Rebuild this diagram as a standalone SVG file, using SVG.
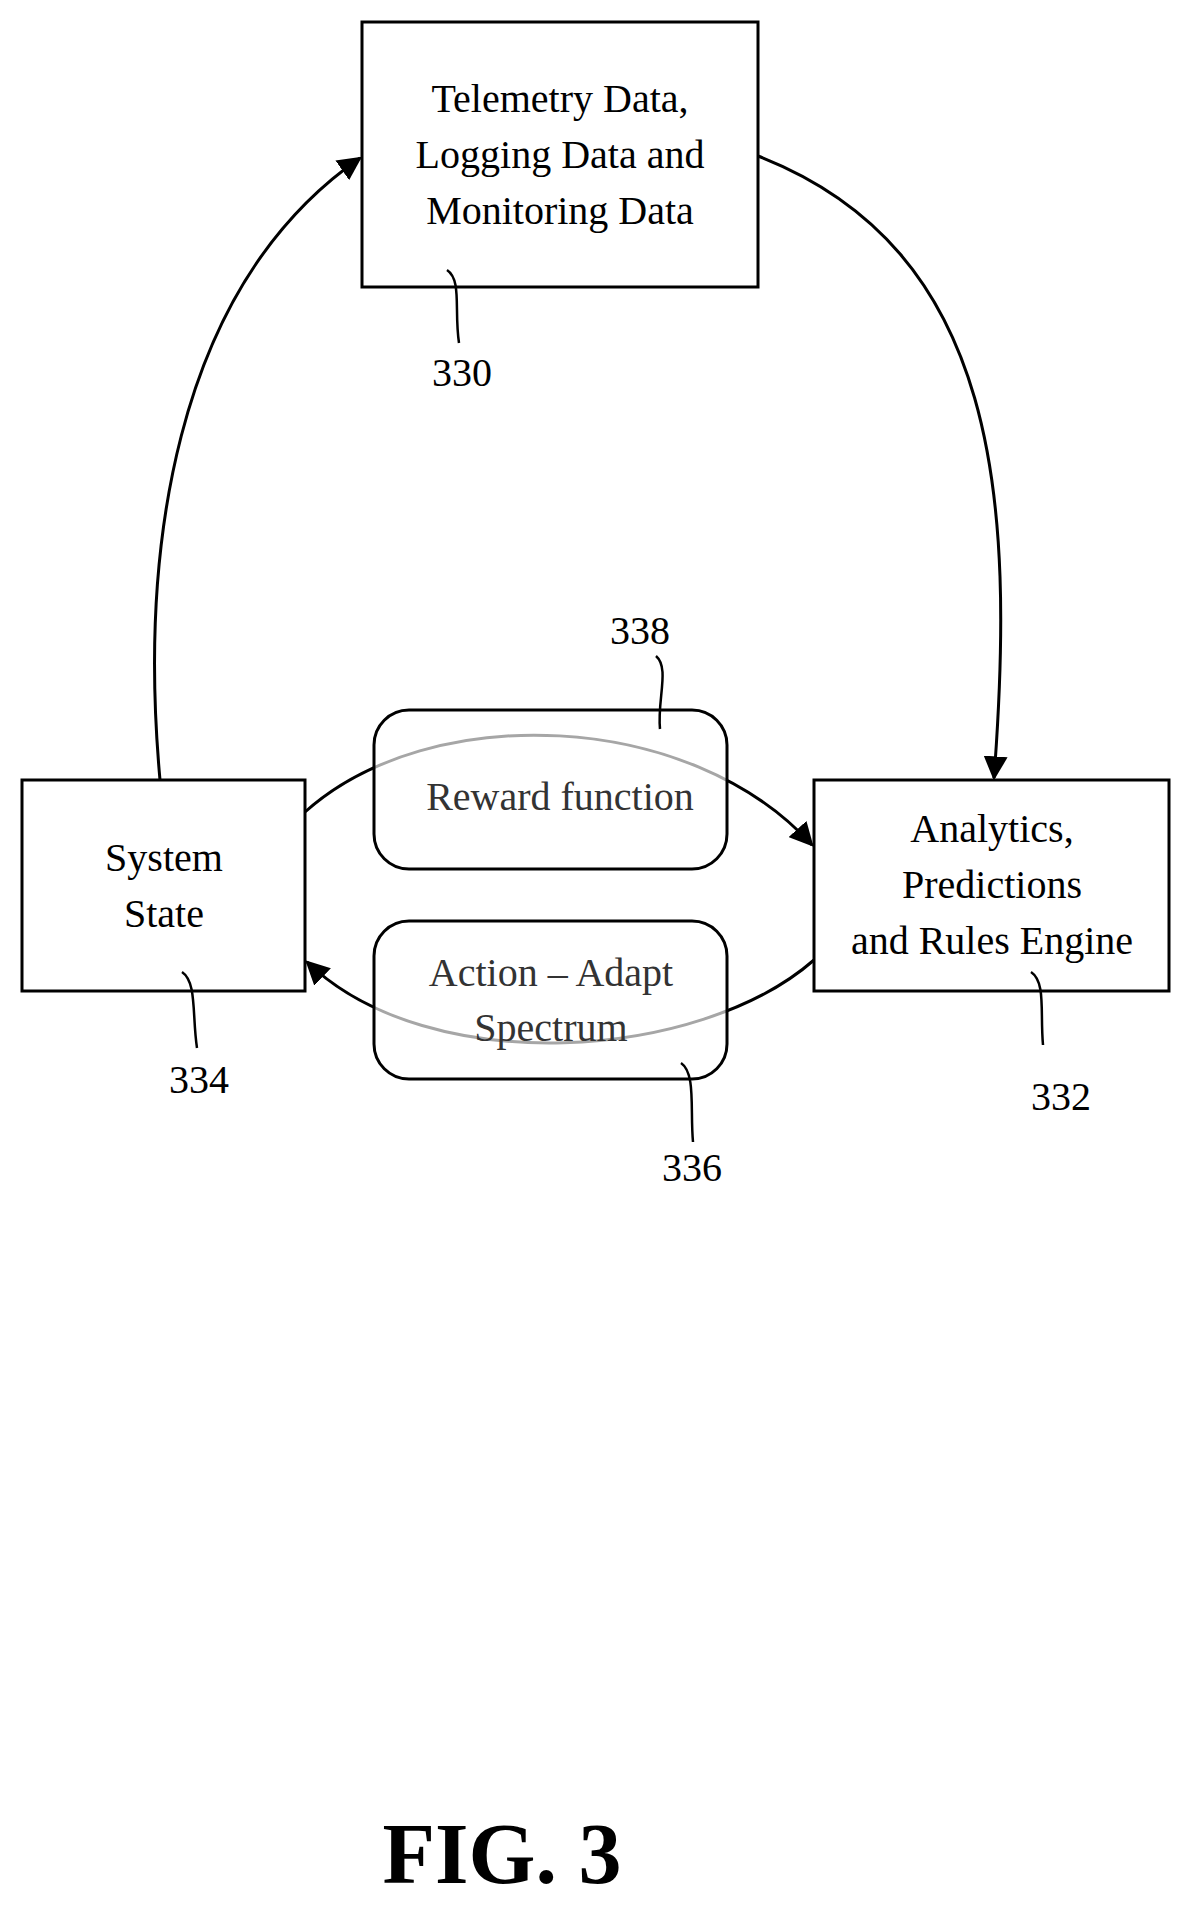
<svg xmlns="http://www.w3.org/2000/svg" width="1191" height="1905" viewBox="0 0 1191 1905">
<style>
.b{fill:#fff;stroke:#000;stroke-width:3}
.r{fill:#fff;fill-opacity:0.65;stroke:#000;stroke-width:3}
.t{font-family:"Liberation Serif",serif;font-size:40px;text-anchor:middle;fill:#000}
.g{fill:#333}
.c{fill:none;stroke:#000;stroke-width:3}
.l{fill:none;stroke:#000;stroke-width:2.5}
</style>
<defs><marker id="a" viewBox="0 0 10 10" refX="9" refY="5" markerWidth="9" markerHeight="9" markerUnits="userSpaceOnUse" orient="auto"><path d="M0,0 L10,5 L0,10 z"/></marker>
<marker id="m" viewBox="0 0 10 10" refX="9" refY="5" markerWidth="8" markerHeight="8" orient="auto"><path d="M0,0 L10,5 L0,10 z"/></marker></defs>
<g id="connectors">
<path class="c" d="M160,780 C140,560 170,290 360,158" marker-end="url(#m)"/>
<path class="c" d="M758,156 C1000,250 1015,500 994,778" marker-end="url(#m)"/>
<path class="c" d="M305,812 C430,700 690,710 812,845" marker-end="url(#m)"/>
<path class="c" d="M814,960 C700,1060 430,1080 307,962" marker-end="url(#m)"/>
</g>
<g id="n330"><rect class="b" x="362" y="22" width="396" height="265"/>
<text class="t" x="560" y="112">Telemetry Data,</text><text class="t" x="560" y="168">Logging Data and</text><text class="t" x="560" y="224">Monitoring Data</text>
<path class="l" d="M447,270 C462,280 454,310 459,343"/><text class="t" x="462" y="386">330</text></g>
<g id="n334"><rect class="b" x="22" y="780" width="283" height="211"/>
<text class="t" x="164" y="871">System</text><text class="t" x="164" y="927">State</text>
<path class="l" d="M182,972 C197,982 192,1015 197,1048"/><text class="t" x="199" y="1093">334</text></g>
<g id="n332"><rect class="b" x="814" y="780" width="355" height="211"/>
<text class="t" x="992" y="842">Analytics,</text><text class="t" x="992" y="898">Predictions</text><text class="t" x="992" y="954">and Rules Engine</text>
<path class="l" d="M1031,972 C1046,982 1040,1012 1043,1045"/><text class="t" x="1061" y="1110">332</text></g>
<g id="n338"><rect class="r" x="374" y="710" width="353" height="159" rx="35"/>
<text class="t g" x="560" y="810">Reward function</text>
<path class="l" d="M656,656 C670,668 657,700 660,729"/><text class="t" x="640" y="644">338</text></g>
<g id="n336"><rect class="r" x="374" y="921" width="353" height="158" rx="35"/>
<text class="t g" x="551" y="986">Action – Adapt</text><text class="t g" x="551" y="1041">Spectrum</text>
<path class="l" d="M681,1063 C696,1073 690,1110 693,1142"/><text class="t" x="692" y="1181">336</text></g>
<text x="502" y="1883" style="font-family:'Liberation Serif',serif;font-size:86px;font-weight:bold;text-anchor:middle">FIG. 3</text>
</svg>
